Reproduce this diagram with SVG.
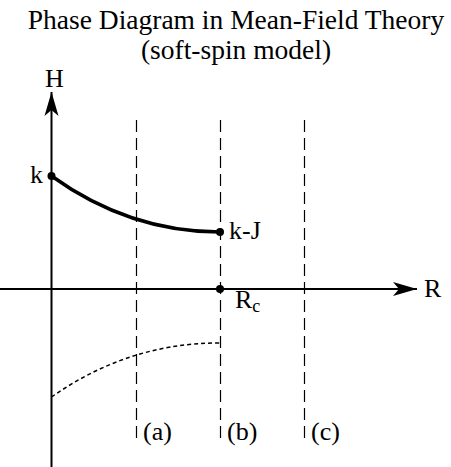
<svg xmlns="http://www.w3.org/2000/svg" width="451" height="467" viewBox="0 0 451 467">
<style>
text{font-family:"Liberation Serif","Times New Roman",serif;fill:#000}
.title{font-size:27.5px;text-anchor:middle}
.lbl{font-size:26px}
.axis{stroke:#000;stroke-width:2;fill:none}
.guide{stroke:#000;stroke-width:1.2;stroke-dasharray:12,6;fill:none}
.dot{fill:#000}
</style>
<defs>
<marker id="arr" markerUnits="userSpaceOnUse" markerWidth="26" markerHeight="16" refX="24" refY="8" orient="auto">
<path d="M0,1 L24,8 L0,15 L6,8 Z" fill="#000"/>
</marker>
</defs>
<rect width="451" height="467" fill="#fff"/>
<g id="title">
<text class="title" x="236" y="29">Phase Diagram in Mean-Field Theory</text>
<text class="title" x="236" y="59">(soft-spin model)</text>
</g>
<g id="connectors">
<line id="h-axis" class="axis" x1="51.5" y1="467" x2="51.5" y2="92" marker-end="url(#arr)"/>
<line id="r-axis" class="axis" x1="0" y1="289" x2="417" y2="289" marker-end="url(#arr)"/>
<line class="guide" x1="136.5" y1="120" x2="136.5" y2="443"/>
<line class="guide" x1="220.5" y1="120" x2="220.5" y2="443"/>
<line class="guide" x1="304.5" y1="120" x2="304.5" y2="443"/>
<path id="upper-curve" d="M51.5,176 C96,208 150,232 220,232" stroke="#000" stroke-width="3.5" fill="none"/>
<path id="lower-curve" d="M51.5,397 C96,366 150,343 220,343" stroke="#000" stroke-width="1.5" stroke-dasharray="4,3" fill="none"/>
</g>
<g id="labels">
<text class="lbl" x="45" y="87">H</text>
<text class="lbl" x="424" y="297">R</text>
<text class="lbl" x="30" y="183">k</text>
<text class="lbl" x="229" y="239">k-J</text>
<g id="rc"><text class="lbl" x="235" y="308">R<tspan font-size="18" dy="4">c</tspan></text></g>
<text class="lbl" x="143" y="440">(a)</text>
<text class="lbl" x="227" y="440">(b)</text>
<text class="lbl" x="311" y="440">(c)</text>
</g>
<g id="points">
<circle id="pt-k" class="dot" cx="51.5" cy="176" r="4"/>
<circle id="pt-kJ" class="dot" cx="220" cy="232" r="4"/>
<circle id="pt-Rc" class="dot" cx="220" cy="289" r="4"/>
</g>
</svg>
